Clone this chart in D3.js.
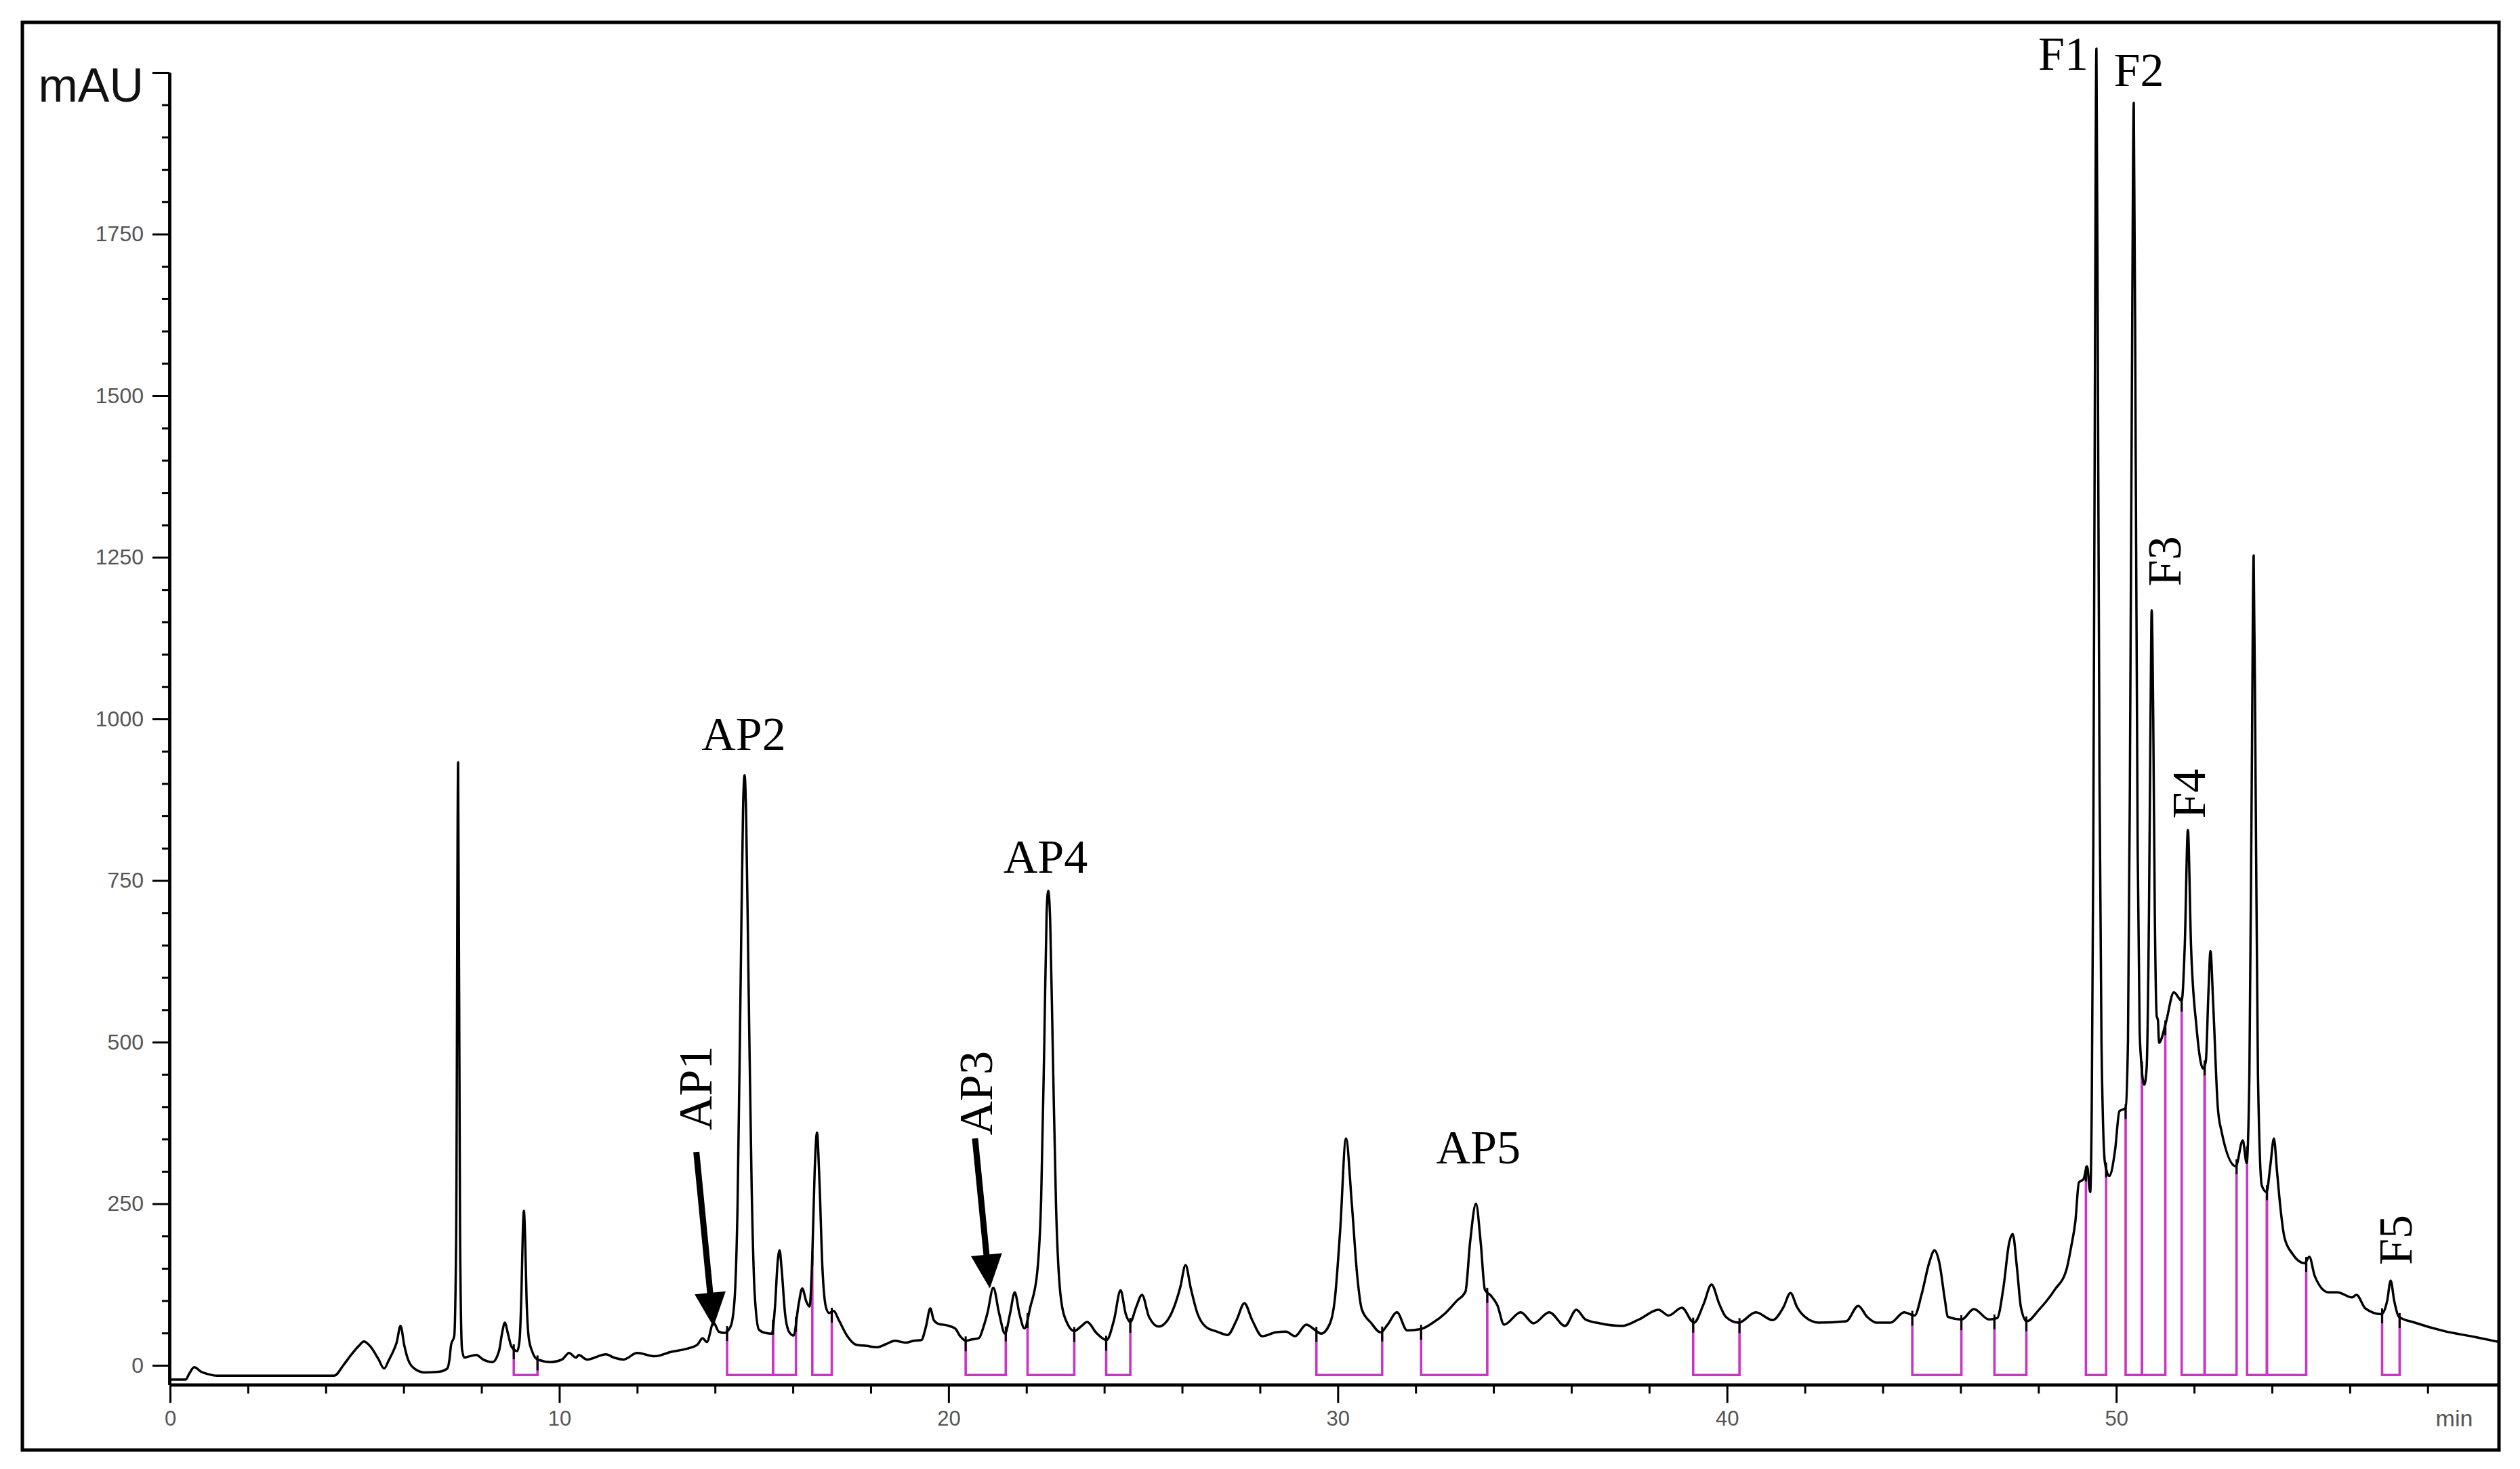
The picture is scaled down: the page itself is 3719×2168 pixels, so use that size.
<!DOCTYPE html>
<html><head><meta charset="utf-8">
<script src="https://cdn.jsdelivr.net/npm/d3@7/dist/d3.min.js"></script>
<style>body{margin:0;background:#fff}svg{display:block}</style>
</head><body>
<svg id="c" width="3719" height="2168"></svg>
<script>
// ---- data ----
const time = [0.00,0.40,0.50,0.62,0.80,1.00,1.20,2.00,3.00,4.22,4.45,4.65,4.85,4.98,5.15,5.35,5.50,5.62,5.72,5.82,5.92,6.02,6.12,6.30,6.54,6.90,7.12,7.18,7.22,7.30,7.35,7.40,7.45,7.50,7.56,7.70,7.87,8.04,8.28,8.45,8.53,8.60,8.68,8.77,8.92,8.98,9.03,9.06,9.09,9.12,9.16,9.22,9.30,9.44,9.79,10.07,10.25,10.43,10.50,10.71,11.20,11.40,11.65,12.00,12.45,12.88,13.30,13.55,13.68,13.79,13.96,14.10,14.24,14.40,14.50,14.58,14.66,14.72,14.76,14.80,14.86,14.94,15.02,15.13,15.30,15.46,15.54,15.61,15.66,15.71,15.80,15.90,16.02,16.15,16.24,16.35,16.43,16.50,16.56,16.62,16.68,16.76,16.85,16.93,17.05,17.18,17.40,17.62,17.90,18.17,18.40,18.62,18.90,19.10,19.30,19.42,19.53,19.62,19.74,19.95,20.17,20.30,20.45,20.60,20.78,20.90,21.00,21.15,21.30,21.45,21.58,21.70,21.82,21.95,22.10,22.28,22.38,22.46,22.52,22.56,22.61,22.68,22.76,22.89,23.05,23.23,23.40,23.56,23.80,24.06,24.25,24.42,24.55,24.67,24.82,24.97,25.15,25.40,25.73,25.95,26.09,26.22,26.39,26.60,26.90,27.17,27.40,27.60,27.80,28.06,28.41,28.67,28.90,29.19,29.43,29.57,29.80,29.92,30.06,30.21,30.36,30.50,30.62,30.85,31.10,31.28,31.52,31.78,32.13,32.42,32.77,33.06,33.28,33.40,33.55,33.67,33.78,33.93,34.10,34.27,34.70,35.03,35.43,35.84,36.13,36.36,36.73,37.30,37.74,38.24,38.50,38.84,39.15,39.40,39.60,39.80,39.97,40.30,40.74,41.17,41.45,41.63,41.80,42.00,42.36,43.06,43.37,43.60,43.84,44.20,44.55,44.82,45.00,45.20,45.33,45.45,45.60,45.67,46.03,46.34,46.73,46.94,47.10,47.25,47.34,47.45,47.55,47.70,48.00,48.42,48.72,48.84,48.95,49.04,49.16,49.25,49.33,49.37,49.41,49.45,49.49,49.53,49.57,49.62,49.71,49.82,49.97,50.08,50.24,50.30,50.35,50.40,50.45,50.50,50.55,50.60,50.63,50.72,50.78,50.84,50.88,50.91,50.95,50.99,51.04,51.07,51.10,51.27,51.48,51.68,51.76,51.84,51.92,52.06,52.23,52.30,52.37,52.42,52.49,52.61,52.70,53.07,53.25,53.35,53.42,53.48,53.53,53.58,53.64,53.74,53.86,53.96,54.05,54.13,54.21,54.32,54.52,54.84,54.96,55.10,55.45,55.68,56.06,56.17,56.40,56.81,56.96,57.05,57.14,57.26,57.67,58.42,59.20,59.84];
const mAU = [-22,-22,-12,-3,-10,-14,-16,-16,-16,-16,0,16,30,37,29,10,-5,8,20,35,61,30,8,-6,-11,-10,-5,10,32,45,200,933,200,25,12,14,16,9,5,22,50,66,49,29,22,40,120,200,239,200,100,40,22,9,5,9,19,12,16,9,17,12,9,19,14,21,26,32,42,36,66,52,50,60,100,250,600,860,913,850,600,280,110,55,50,49,90,160,178,150,80,52,46,95,119,98,91,170,300,360,290,150,90,81,84,70,45,32,30,28,33,38,35,38,39,60,88,70,64,62,57,45,38,40,42,60,81,120,80,49,80,113,80,57,90,145,260,500,700,734,690,480,250,102,65,53,60,67,50,39,70,116,80,67,90,109,75,60,81,120,155,120,81,60,52,47,70,96,70,45,51,52,45,63,54,49,65,100,208,351,250,138,86,66,51,63,82,54,56,65,81,100,114,191,250,191,117,108,93,63,82,65,82,61,86,71,65,61,71,86,77,89,66,95,125,95,75,66,82,70,90,112,90,75,66,68,92,75,66,66,82,77,110,160,178,160,100,75,71,87,71,73,120,190,203,150,90,68,85,117,148,183,223,283,288,308,268,400,800,1500,2037,1500,900,500,313,293,333,393,398,500,900,1500,1953,1400,800,520,479,434,460,700,1000,1168,1000,700,540,534,499,529,577,564,650,828,650,524,459,470,580,641,559,398,363,308,348,313,450,900,1253,900,450,278,268,310,351,300,248,198,173,158,168,138,113,113,105,109,88,79,100,131,100,75,66,53,44,36];

// collected fractions (start / end, min)
const fracStart = [8.83,14.31,15.49,16.50,20.44,22.03,24.05,29.45,32.14,39.13,44.76,46.87,49.22,50.24,50.66,51.68,52.27,53.36,53.87,56.83];
const fracEnd   = [9.44,15.49,16.08,17.00,21.47,23.23,24.67,31.14,33.84,40.32,46.02,47.69,49.74,50.66,51.26,52.27,53.09,53.87,54.88,57.28];
const fracFloor = -15;

const yMajor = [0,250,500,750,1000,1250,1500,1750,2000];
const yLabels = ["0","250","500","750","1000","1250","1500","1750",""];
const xMajor = [0,10,20,30,40,50];
const xLabels = ["0","10","20","30","40","50"];

// peak annotations (anchor in data units)
const peakLabels = [
  {text:"AP1", t:13.91, v:429, rot:true},
  {text:"AP2", t:14.735, v:952, rot:false},
  {text:"AP3", t:21.11, v:421, rot:true},
  {text:"AP4", t:22.49, v:762, rot:false},
  {text:"AP5", t:33.61, v:312, rot:false},
  {text:"F1", t:48.64, v:2004, rot:false},
  {text:"F2", t:50.58, v:1979, rot:false},
  {text:"F3", t:51.65, v:1244, rot:true},
  {text:"F4", t:52.28, v:884, rot:true},
  {text:"F5", t:57.59, v:194, rot:true}
];
const arrows = [
  {t0:13.52, v0:330, t1:13.96, v1:60},
  {t0:20.68, v0:351, t1:21.06, v1:119}
];

// ---- drawing ----
const svg = d3.select('#c');
const x = d3.scaleLinear().domain([0,59.85]).range([251,3689]);
const y = d3.scaleLinear().domain([-30,2000]).range([2043.6,107]);

svg.append('rect').attr('x',33).attr('y',33).attr('width',3655).attr('height',2107)
  .attr('fill','none').attr('stroke','#000').attr('stroke-width',5);

function valAt(t){
  const i = d3.bisectLeft(time,t);
  if(i<=0) return mAU[0];
  if(i>=time.length) return mAU[mAU.length-1];
  const t0=time[i-1], t1=time[i];
  return mAU[i-1]+(mAU[i]-mAU[i-1])*(t-t0)/(t1-t0);
}

// fractions
const fg = svg.append('g');
fracStart.forEach((ts,i)=>{
  const te = fracEnd[i];
  const p = d3.path();
  p.moveTo(x(ts), y(valAt(ts)));
  p.lineTo(x(ts), y(fracFloor));
  p.lineTo(x(te), y(fracFloor));
  p.lineTo(x(te), y(valAt(te)));
  fg.append('path').attr('d',p.toString()).attr('fill','none')
    .attr('stroke','#c935c4').attr('stroke-width',3.6).attr('stroke-linejoin','miter');
});
// integration marks
const marks = Array.from(new Set(fracStart.concat(fracEnd)));
fg.selectAll('line.mk').data(marks).join('line').attr('class','mk')
  .attr('x1',d=>x(d)).attr('x2',d=>x(d))
  .attr('y1',d=>y(valAt(d))-6).attr('y2',d=>y(valAt(d))+16)
  .attr('stroke','#000').attr('stroke-width',3);

// trace
const line = d3.line().x((d,i)=>x(time[i])).y((d,i)=>y(mAU[i])).curve(d3.curveMonotoneX);
svg.append('path').datum(mAU).attr('d',line).attr('fill','none')
  .attr('stroke','#000').attr('stroke-width',3.5).attr('stroke-linejoin','round');

// y axis
const yMinor = d3.range(50,2001,50).filter(v=>v%250!==0);
const yAxMinor = d3.axisLeft(y).tickValues(yMinor).tickSize(11).tickSizeOuter(0).tickFormat('');
const yAxMajor = d3.axisLeft(y).tickValues(yMajor).tickSize(25).tickSizeOuter(0).tickPadding(13)
  .tickFormat((d,i)=>yLabels[i]);
const gy1 = svg.append('g').attr('transform','translate(250,0)').call(yAxMinor);
const gy2 = svg.append('g').attr('transform','translate(250,0)').call(yAxMajor);
[gy1,gy2].forEach(g=>{
  g.select('.domain').attr('stroke','#000').attr('stroke-width',4.5);
  g.selectAll('.tick line').attr('stroke','#000').attr('stroke-width',3);
});
gy2.selectAll('.tick text').attr('font-family','Arial, "Liberation Sans", sans-serif')
  .attr('font-size',32).attr('fill','#555');

// x axis
const xMinor = d3.range(2,59,2).filter(v=>v%10!==0);
const xAxMinor = d3.axisBottom(x).tickValues(xMinor).tickSize(13).tickSizeOuter(0).tickFormat('');
const xAxMajor = d3.axisBottom(x).tickValues(xMajor).tickSize(27).tickSizeOuter(0).tickPadding(11)
  .tickFormat((d,i)=>xLabels[i]);
const gx1 = svg.append('g').attr('transform',`translate(0,${y(-30)})`).call(xAxMinor);
const gx2 = svg.append('g').attr('transform',`translate(0,${y(-30)})`).call(xAxMajor);
[gx1,gx2].forEach(g=>{
  g.select('.domain').attr('stroke','#000').attr('stroke-width',4.5);
  g.selectAll('.tick line').attr('stroke','#000').attr('stroke-width',3);
});
gx2.selectAll('.tick text').attr('font-family','Arial, "Liberation Sans", sans-serif')
  .attr('font-size',31).attr('fill','#555');

svg.append('text').attr('x',3622).attr('y',2105).attr('text-anchor','middle')
  .attr('font-family','Arial, "Liberation Sans", sans-serif').attr('font-size',34).attr('fill','#555').text('min');
svg.append('text').attr('x',212).attr('y',150).attr('text-anchor','end')
  .attr('font-family','Arial, "Liberation Sans", sans-serif').attr('font-size',70).attr('fill','#111').text('mAU');

// peak labels
peakLabels.forEach(l=>{
  const t = svg.append('text').attr('text-anchor','middle')
    .attr('font-family','"Times New Roman", "Liberation Serif", serif').attr('font-size',70).attr('fill','#000')
    .text(l.text);
  if(l.rot) t.attr('transform',`translate(${x(l.t)},${y(l.v)}) rotate(-90)`);
  else t.attr('x',x(l.t)).attr('y',y(l.v));
});

// arrows
arrows.forEach(a=>{
  const x0=x(a.t0), y0=y(a.v0), x1=x(a.t1), y1=y(a.v1);
  const dx=x1-x0, dy=y1-y0, L=Math.hypot(dx,dy), ux=dx/L, uy=dy/L;
  const hl=50, hw=23;
  const bx=x1-ux*hl, by=y1-uy*hl;
  svg.append('line').attr('x1',x0).attr('y1',y0).attr('x2',bx+ux*4).attr('y2',by+uy*4)
    .attr('stroke','#000').attr('stroke-width',9);
  svg.append('path').attr('d',`M${x1},${y1}L${bx-uy*hw},${by+ux*hw}L${bx+uy*hw},${by-ux*hw}Z`).attr('fill','#000');
});
</script>
</body></html>
